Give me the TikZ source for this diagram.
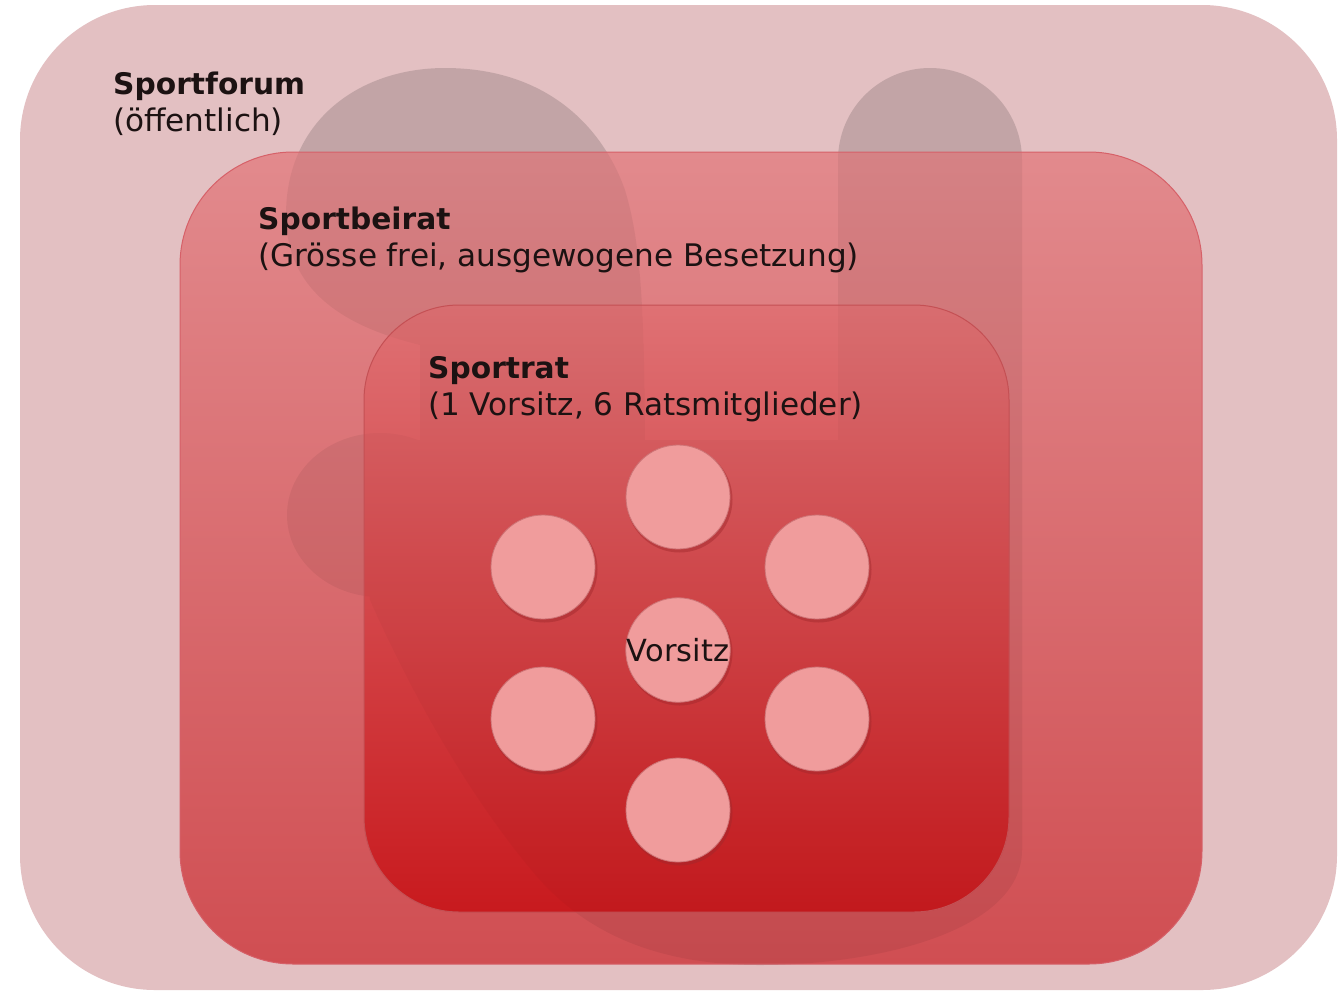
\documentclass[tikz,border=0pt]{standalone}
\usepackage{fontspec}
\setmainfont{DejaVu Sans}
\definecolor{forumfill}{RGB}{227,192,194}
\definecolor{beiratTop}{RGB}{226,138,141}
\definecolor{beiratMid}{RGB}{216,106,109}
\definecolor{beiratBot}{RGB}{208,78,82}
\definecolor{ratTop}{RGB}{223,113,116}
\definecolor{ratMid}{RGB}{210,68,70}
\definecolor{ratBot}{RGB}{200,26,30}
\definecolor{beiratLine}{RGB}{214,96,104}
\definecolor{ratLine}{RGB}{196,80,84}
\definecolor{memberFill}{RGB}{240,156,156}
\definecolor{memberLine}{RGB}{206,116,118}
\definecolor{memberShadow}{RGB}{160,40,44}
\definecolor{txt}{RGB}{28,18,18}
\newcommand{\drawhandshape}{%
  \fill (286,215) .. controls (286,120) and (360,68) .. (445,68)
        .. controls (540,68) and (600,120) .. (625,190)
        .. controls (640,240) and (645,300) .. (645,470) -- (420,470) -- (420,345)
        .. controls (360,330) and (286,300) .. (286,215) -- cycle;
  \fill (930,160) circle[radius=92];
  \fill (838,160) rectangle (1022,850);
  \fill (365,440) -- (1022,440) -- (1022,850) .. controls (1022,930) and (880,965) .. (760,965)
        .. controls (660,965) and (590,935) .. (540,880) .. controls (470,800) and (410,690) .. (370,600) -- cycle;
  \fill (380,515) ellipse[x radius=93, y radius=82];
}
\tikzset{
  lbl/.style={anchor=base west, inner sep=0pt, text=txt, font=\fontsize{31.1}{37}\selectfont},
  lblb/.style={anchor=base west, inner sep=0pt, text=txt, font=\fontsize{29.7}{37}\selectfont\bfseries},
  member/.style={circle, minimum size=104pt, inner sep=0pt, fill=memberFill, draw=memberLine, line width=0.8pt,
                 text=txt, font=\fontsize{30.5}{35}\selectfont},
  membershadow/.style={circle, minimum size=106pt, inner sep=0pt, fill=memberShadow, fill opacity=0.45, draw=none}
}
\begin{document}
\begin{tikzpicture}[x=1pt,y=-1pt]
\useasboundingbox (0,0) rectangle (1338,994);
\fill[white] (0,0) rectangle (1338,994);
% outer box: Sportforum
\fill[forumfill, rounded corners=135pt] (20,5) rectangle (1337,990);
% hand silhouette
\begin{scope}[transparency group, opacity=0.14]
  \drawhandshape
\end{scope}
% Sportbeirat
\shade[top color=beiratTop, middle color=beiratMid, bottom color=beiratBot, rounded corners=113pt]
  (180,152) rectangle (1202,964);
\begin{scope}
  \clip[rounded corners=113pt] (180,152) rectangle (1202,964);
  \begin{scope}[transparency group, opacity=0.055]
    \drawhandshape
  \end{scope}
\end{scope}
\draw[beiratLine, line width=1pt, rounded corners=113pt] (180,152) rectangle (1202,964);
% Sportrat
\shade[top color=ratTop, middle color=ratMid, bottom color=ratBot, rounded corners=95pt]
  (364,305) rectangle (1009,912);
\begin{scope}
  \clip[rounded corners=95pt] (364,305) rectangle (1009,912);
  \begin{scope}[transparency group, opacity=0.028]
    \drawhandshape
  \end{scope}
\end{scope}
\draw[ratLine, line width=1pt, rounded corners=95pt] (364,305) rectangle (1009,912);
% labels
\node[lblb] (forumT) at (113,94) {Sportforum};
\node[lbl] (forumS) at (113,131) {(öffentlich)};
\node[lblb] (beiratT) at (258,229) {Sportbeirat};
\node[lbl] (beiratS) at (258,266) {(Grösse frei, ausgewogene Besetzung)};
\node[lblb] (ratT) at (428,378) {Sportrat};
\node[lbl] (ratS) at (428,415) {(1 Vorsitz, 6 Ratsmitglieder)};
% member shadows
\foreach \px/\py in {678/497, 543/567, 817/567, 678/650, 543/719, 817/719, 678/810}
  \node[membershadow] at (\px+1.5,\py+2.5) {};
% members
\node[member] (m1) at (678,497) {};
\node[member] (m2) at (543,567) {};
\node[member] (m3) at (817,567) {};
\node[member] (m4) at (543,719) {};
\node[member] (m5) at (817,719) {};
\node[member] (m6) at (678,810) {};
\node[member] (chair) at (678,650) {Vorsitz};
\end{tikzpicture}
\end{document}
